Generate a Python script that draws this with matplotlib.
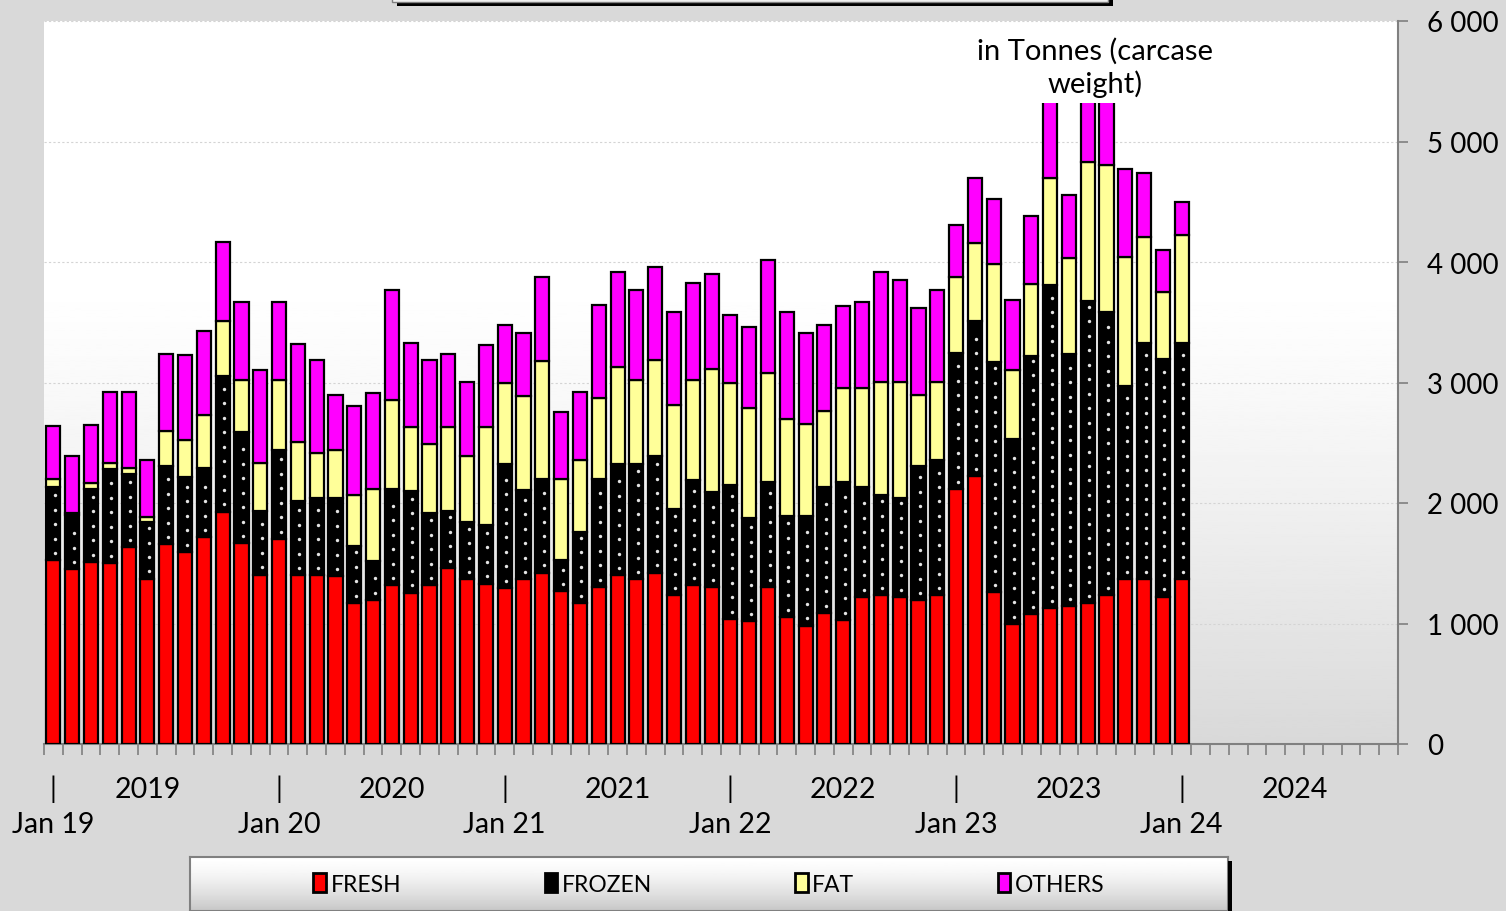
import numpy as np
import matplotlib.pyplot as plt
import matplotlib.transforms as mtransforms
from matplotlib.patches import Patch, Rectangle

plt.rcParams['font.family'] = ['Lato', 'DejaVu Sans']

# monthly values, Jan 2019 .. Jan 2024 (tonnes carcase weight)
fresh = [1525, 1450, 1511, 1503, 1631, 1372, 1658, 1594, 1714, 1928, 1664, 1406,
         1703, 1400, 1400, 1392, 1172, 1197, 1317, 1256, 1317, 1461, 1367, 1331,
         1294, 1367, 1422, 1267, 1172, 1303, 1400, 1367, 1422, 1233, 1317, 1303,
         1039, 1017, 1303, 1053, 983, 1089, 1031, 1219, 1233, 1219, 1192, 1233,
         2116, 2221, 1258, 995, 1079, 1125, 1142, 1167, 1237, 1371, 1371, 1223,
         1371]
frozen = [611, 450, 603, 780, 608, 470, 650, 625, 580, 1125, 925, 527,
          739, 617, 639, 647, 472, 320, 800, 844, 597, 472, 472, 486,
          1028, 741, 778, 264, 584, 897, 922, 955, 970, 717, 875, 786,
          1111, 861, 875, 839, 909, 1042, 1147, 912, 834, 825, 1116, 1125,
          1128, 1287, 1916, 1536, 2144, 2682, 2092, 2506, 2348, 1599, 1958, 1969,
          1958]
fat = [61, 14, 55, 48, 55, 44, 286, 306, 439, 458, 428, 398,
       575, 486, 380, 403, 423, 600, 741, 531, 575, 698, 553, 814,
       675, 778, 978, 669, 602, 672, 809, 697, 791, 867, 827, 1025,
       847, 911, 903, 805, 766, 636, 778, 825, 939, 962, 592, 648,
       633, 647, 809, 569, 598, 893, 798, 1153, 1224, 1072, 882, 562,
       896]
others = [439, 472, 481, 591, 628, 472, 639, 700, 695, 653, 652, 772,
          652, 819, 767, 458, 736, 797, 909, 700, 697, 605, 614, 677,
          478, 528, 694, 556, 564, 770, 783, 748, 773, 769, 806, 786,
          564, 675, 936, 884, 756, 708, 675, 713, 913, 844, 722, 761,
          429, 538, 541, 584, 562, 700, 520, 650, 650, 731, 527, 348,
          274]

series_names = ['FRESH', 'FROZEN', 'FAT', 'OTHERS']
series_colors = ['#ff0000', '#000000', '#ffff99', '#ff00ff']
years = ['2019', '2020', '2021', '2022', '2023', '2024']
year_pos = [5, 18, 30, 42, 54, 66]
jan_labels = ['Jan 19', 'Jan 20', 'Jan 21', 'Jan 22', 'Jan 23', 'Jan 24']
n_slots = 72

W, H = 1506, 912
fig = plt.figure(figsize=(W / 100, H / 100), dpi=100, facecolor='#d9d9d9')
ax = fig.add_axes([44 / W, 1 - 745 / H, (1398 - 44) / W, (745 - 22) / H])
ax.set_facecolor('none')

# plot area gradient: white at top, light grey at the bottom
t = np.linspace(0, 1, 256)
g = 1 - 0.15 * np.clip((t - 0.35) / 0.65, 0, 1) ** 1.3
ax.imshow(g[:, None], cmap='gray', vmin=0, vmax=1, extent=[0, 1, 0, 1],
          transform=ax.transAxes, aspect='auto', zorder=0)

x = np.arange(len(fresh))
w = 0.75
lw = 1.6
f = np.array(fresh)
fz = np.array(frozen)
ft = np.array(fat)
ot = np.array(others)

ax.bar(x, f, w, color=series_colors[0], edgecolor='black', lw=lw, zorder=3)
ax.bar(x, fz, w, bottom=f, color='black', edgecolor='black', lw=lw, zorder=3)
ax.bar(x, ft, w, bottom=f + fz, color=series_colors[2], edgecolor='black', lw=lw, zorder=3)
ax.bar(x, ot, w, bottom=f + fz + ft, color=series_colors[3], edgecolor='black', lw=lw, zorder=3)

# dotted fill of the frozen segments
for i in x:
    ys = np.arange(f[i] + 60, f[i] + fz[i] - 40, 120)
    ax.scatter(np.full(len(ys), i + 0.08), ys, s=6, color='#e4e4e4', lw=0, zorder=4)

ax.set_xlim(-0.5, n_slots - 0.5)
ax.set_ylim(0, 6000)

ax.set_axisbelow(True)
ax.yaxis.grid(True, color='#d4d4d4', ls=(0, (2, 2)), lw=0.8)

ax.yaxis.tick_right()
ax.set_yticks(np.arange(0, 6001, 1000))
ax.set_yticklabels([f'{int(v):,}'.replace(',', ' ') for v in np.arange(0, 6001, 1000)])
ax.tick_params(axis='y', length=7, color='#808080', width=1.2, pad=14, labelsize=20)

ax.set_xticks(np.arange(-0.5, n_slots, 1), minor=True)
ax.set_xticks([12 * i for i in range(len(jan_labels))])
ax.set_xticklabels(['|'] * len(jan_labels))
ax.tick_params(axis='x', which='minor', length=8, color='#808080', width=1.2)
ax.tick_params(axis='x', which='major', length=0, pad=22, labelsize=20)

for s in ['left', 'top']:
    ax.spines[s].set_visible(False)
for s in ['right', 'bottom']:
    ax.spines[s].set_color('#808080')
    ax.spines[s].set_linewidth(1.5)

trans = mtransforms.blended_transform_factory(ax.transData, fig.transFigure)
for p, lab in zip(year_pos, years):
    ax.text(p, 1 - 790 / H, lab, ha='center', va='center', fontsize=20.5, transform=trans)
for i, lab in enumerate(jan_labels):
    ax.text(12 * i, 1 - 825 / H, lab, ha='center', va='center', fontsize=20.5, transform=trans)

ax.text(55.4, 5620, 'in Tonnes (carcase\nweight)', ha='center', va='center', fontsize=21,
        linespacing=1.25, zorder=5,
        bbox=dict(boxstyle='square,pad=0.2', facecolor='white', edgecolor='none'))

# cut-off title box at the top
fig.patches.append(Rectangle((397 / W, 1 - 7 / H), 716 / W, 8 / H, transform=fig.transFigure,
                             facecolor='black', edgecolor='none'))
fig.patches.append(Rectangle((392 / W, 1 - 3 / H), 716 / W, 5 / H, transform=fig.transFigure,
                             facecolor='#f0f0f0', edgecolor='#808080', lw=1))

# legend box at the bottom
fig.patches.append(Rectangle((1228 / W, 0), 4 / W, 50 / H, transform=fig.transFigure,
                             facecolor='black', edgecolor='none'))
lax = fig.add_axes([190 / W, 0, 1038 / W, 54 / H])
lg = 1 - 0.22 * np.linspace(0, 1, 64) ** 1.5
lax.imshow(lg[:, None], cmap='gray', vmin=0, vmax=1, extent=[0, 1, 0, 1], aspect='auto')
lax.set_xticks([])
lax.set_yticks([])
for s in lax.spines.values():
    s.set_color('#808080')
    s.set_linewidth(1.5)

handles = [Patch(facecolor=c, edgecolor='black', lw=2) for c in series_colors]
lax.legend(handles, series_names, loc='center', ncol=4, frameon=False, fontsize=16.5,
           handlelength=0.55, handleheight=0.85, handletextpad=0.2, columnspacing=6.25,
           borderaxespad=0)

fig.savefig('out.png', dpi=100, facecolor=fig.get_facecolor())
